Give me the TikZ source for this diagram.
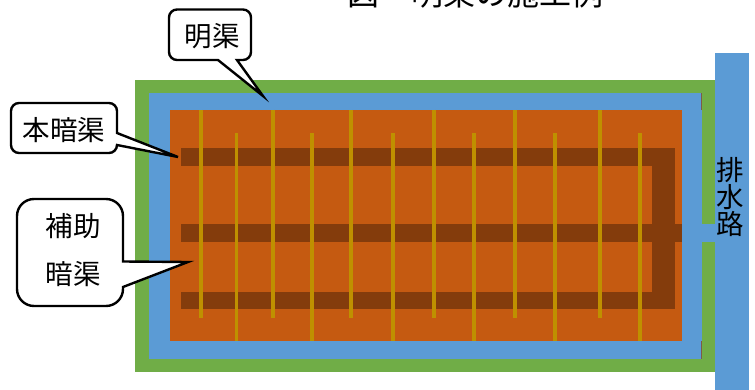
\documentclass[tikz,border=0pt]{standalone}
\usepackage{fontspec}
\setmainfont{Noto Sans CJK JP}
\usepackage{xcolor}
\definecolor{ditchgreen}{HTML}{70AD47}
\definecolor{ditchblue}{HTML}{5B9BD5}
\definecolor{fieldorange}{HTML}{C55A11}
\definecolor{drainbrown}{HTML}{843C0C}
\definecolor{cutyellow}{HTML}{BF9000}
\tikzset{
    cutline/.style={draw=cutyellow, line width=3.6pt},
    callout/.style={draw=black, fill=white, line width=2.4pt, line join=miter},
    calltext/.style={font=\fontsize{27.5}{27.5}\selectfont, inner sep=0pt}
}

\begin{document}
\begin{tikzpicture}[x=1pt, y=-1pt]
    \clip (0,0) rectangle (755,390);
    \fill [white] (0,0) rectangle (755,390);

    % Ditches and field
    \fill [ditchgreen] (135,80) rectangle (715,372);
    \fill [ditchblue] (715,53) rectangle (749,390);
    \fill [ditchblue] (149,93) rectangle (702,359);
    \fill [ditchblue] (700,224.5) rectangle (716,242);
    \fill [fieldorange] (169.5,110) rectangle (682,341);
    \fill [black!30!fieldorange!70!ditchblue] (701.2,93) rectangle (702.2,110);
    \fill [black!30!fieldorange!70!ditchblue] (701.2,341) rectangle (702.2,359);

    % Underdrains
    \fill [drainbrown] (181,148.3) rectangle (675,165.7);
    \fill [drainbrown] (181,224.5) rectangle (682,241.8);
    \fill [drainbrown] (181,291.8) rectangle (675,309.3);
    \fill [drainbrown] (651.7,148.3) rectangle (675,309.3);

    % Cut lines
    \draw [cutline] (201,110) -- (201,318);
    \draw [cutline] (236.5,133) -- (236.5,341);
    \draw [cutline] (273,110) -- (273,318);
    \draw [cutline] (312,133) -- (312,341);
    \draw [cutline] (351,110) -- (351,318);
    \draw [cutline] (393,133) -- (393,341);
    \draw [cutline] (434,110) -- (434,318);
    \draw [cutline] (474,133) -- (474,341);
    \draw [cutline] (515,110) -- (515,318);
    \draw [cutline] (555,133) -- (555,341);
    \draw [cutline] (599.7,110) -- (599.7,318);
    \draw [cutline] (640,133) -- (640,341);

    % Callouts
    \draw [callout] (218,60) [rounded corners=8pt] -- (169,60) -- (169,9.5) -- (251,9.5) -- (251,60) [sharp corners] -- (237,60) -- (263,96) -- cycle;
    \draw [callout] (117,133) [rounded corners=8pt] -- (117,103) -- (11,103) -- (11,153) -- (117,153) [sharp corners] -- (117,145) -- (178,157) -- cycle;
    \draw [callout] (123,261.5) [rounded corners=17pt] -- (123,199) -- (17,199) -- (17,306) -- (123,306) [sharp corners] -- (123,287) -- (188,262) -- cycle;

    % Node Labels
    \node [font=\fontsize{32}{32}\selectfont, inner sep=0pt] (title) at (475,-7) {図\hspace{1em}明渠の施工例};
    \node [calltext] (opencut) at (212,36) {明渠};
    \node [calltext] (maindrain) at (64,130) {本暗渠};
    \node [calltext, align=center, font=\fontsize{27.5}{48}\selectfont] (subdrain) at (73,250) {補助\\暗渠};
    \node [inner sep=0pt, align=center, font=\fontsize{27.5}{27}\selectfont] (outlet) at (730,197) {排\\水\\路};
\end{tikzpicture}
\end{document}
